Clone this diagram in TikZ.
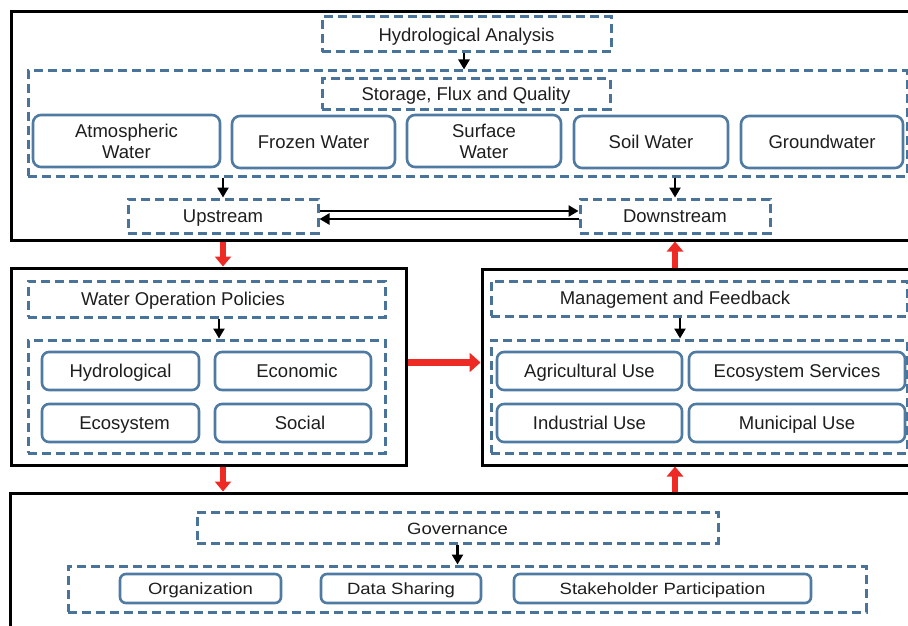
\documentclass[tikz,border=0pt]{standalone}
\usepackage{fontspec}
\setmainfont{Liberation Sans}
\usepackage{graphicx}
\usetikzlibrary{arrows.meta}
\definecolor{dblue}{HTML}{4A7399}
\definecolor{rblue}{HTML}{4F7BA3}
\definecolor{txt}{HTML}{1E1E1E}
\definecolor{ared}{HTML}{EE2A24}
\begin{document}
\begin{tikzpicture}[x=1pt,y=-1pt,
 every node/.style={font=\fontsize{18.5}{21}\selectfont, text=txt, inner sep=0pt, align=center},
 sl/.style={text height=16pt, text depth=4pt},
 outer/.style={draw=black, line width=3pt, rectangle},
 dbox/.style={draw=dblue, line width=3pt, dash pattern=on 9pt off 5pt},
 rbox/.style={draw=rblue, line width=2.6pt, rounded corners=8pt},
 blk/.style={draw=black, line width=2.5pt, -{Triangle[width=11pt,length=10pt]}},
 redv/.style={draw=ared, line width=6.5pt, -{Triangle[width=16pt,length=10pt]}},
 redh/.style={draw=ared, line width=7pt, -{Triangle[width=19pt,length=11pt]}},
 sz/.style 2 args={minimum width=#1, minimum height=#2},
]
\useasboundingbox (0,0) rectangle (908,626);
\clip (0,0) rectangle (908,626);
\fill[white] (0,0) rectangle (908,626);

% ---------- top panel ----------
\node[outer, sz={919pt}{228pt}] (top) at (470.5,126) {};
\node[dbox, text height=18pt, text depth=4pt, sz={289pt}{35pt}] (ha) at (466.5,34.5) {Hydrological Analysis};
\node[dbox, sz={879pt}{105pt}] (sfqbox) at (467.5,123.5) {};
\node[dbox, sl, sz={288pt}{30pt}] (sfq) at (466,94) {Storage, Flux and Quality};
\node[rbox, sz={187pt}{52pt}] (atm) at (126.5,141) {Atmospheric\\Water};
\node[rbox, sl, sz={163pt}{52pt}] (frz) at (313.5,142) {Frozen Water};
\node[rbox, sz={154pt}{52pt}] (srf) at (484,141) {Surface\\Water};
\node[rbox, sl, sz={154pt}{52pt}] (soil) at (651,142) {Soil Water};
\node[rbox, sl, sz={162pt}{52pt}] (gw) at (822,142) {Groundwater};
\node[dbox, sl, sz={190pt}{34pt}] (up) at (223,216) {Upstream};
\node[dbox, sl, sz={190pt}{34pt}] (down) at (675,216) {Downstream};

\draw[blk] ([xshift=-2.5pt]ha.south) -- ([xshift=-2.5pt]ha.south |- sfqbox.north);
\draw[blk] (sfqbox.south -| up.north) -- (up.north);
\draw[blk] (sfqbox.south -| down.north) -- (down.north);
\draw[blk] ([yshift=5pt]up.east) -- ([yshift=5pt]down.west);
\draw[blk] ([yshift=-3pt]down.west) -- ([yshift=-3pt]up.east);

% ---------- left middle panel ----------
\node[outer, sz={395pt}{197pt}] (left) at (208.5,366.5) {};
\node[dbox, sl, sz={357pt}{36pt}] (wop) at (206.5,299) {Water Operation Policies\hspace*{47pt}};
\node[dbox, sz={357pt}{113pt}] (wopin) at (206.5,396.5) {};
\node[rbox, sl, rounded corners=7pt, sz={157pt}{38pt}] (hyd) at (120.5,371) {Hydrological};
\node[rbox, sl, rounded corners=7pt, sz={156pt}{38pt}] (eco) at (293,371) {\hspace*{8pt}Economic};
\node[rbox, sl, rounded corners=7pt, sz={157pt}{38pt}] (esys) at (120.5,423) {\hspace*{8pt}Ecosystem};
\node[rbox, sl, rounded corners=7pt, sz={156pt}{38pt}] (soc) at (293,423) {\hspace*{14pt}Social};
\draw[blk] ([xshift=12.5pt]wop.south) -- ([xshift=12.5pt]wopin.north);

% ---------- right middle panel ----------
\node[outer, sz={448pt}{196pt}] (right) at (706,367) {};
\node[dbox, sl, sz={416pt}{35pt}] (mf) at (699,298.5) {Management and Feedback\hspace*{48pt}};
\node[dbox, sz={416pt}{113pt}] (mfin) at (699,396.5) {};
\node[rbox, sl, rounded corners=7pt, sz={185pt}{38pt}] (agr) at (589.5,371) {Agricultural Use};
\node[rbox, sl, rounded corners=7pt, sz={216pt}{38pt}] (ess) at (797,371) {Ecosystem Services};
\node[rbox, sl, rounded corners=7pt, sz={185pt}{38pt}] (ind) at (589.5,423) {Industrial Use};
\node[rbox, sl, rounded corners=7pt, sz={216pt}{38pt}] (mun) at (797,423) {Municipal Use};
\draw[blk] ([xshift=-19pt]mf.south) -- ([xshift=-19pt]mfin.north);

% ---------- bottom panel ----------
\node[outer, sz={920pt}{147pt}] (bot) at (470,566.5) {};
\node[dbox, text height=16pt, text depth=2pt, sz={521pt}{31pt}] (gov) at (457.5,527.5) {\scalebox{1}[0.88]{Governance}};
\node[dbox, sz={798pt}{46pt}] (govin) at (467,589) {};
\node[rbox, sl, rounded corners=6pt, sz={161pt}{29pt}] (org) at (200.5,588.5) {\scalebox{1}[0.88]{Organization}};
\node[rbox, sl, rounded corners=6pt, sz={160pt}{29pt}] (ds) at (401,588.5) {\scalebox{1}[0.88]{Data Sharing}};
\node[rbox, sl, rounded corners=6pt, sz={297pt}{29pt}] (sp) at (662.5,588.5) {\scalebox{1}[0.88]{Stakeholder Participation}};
\draw[blk] (gov.south) -- (gov.south |- govin.north);

% ---------- red flow arrows ----------
\draw[redv] (top.south -| up.south) -- (left.north -| up.south);
\draw[redv] (left.south -| up.south) -- (bot.north -| up.south);
\draw[redh] ([yshift=4pt]left.east) -- ([yshift=4pt]left.east -| right.west);
\draw[redv] (right.north -| down.south) -- (top.south -| down.south);
\draw[redv] (bot.north -| down.south) -- (right.south -| down.south);
\end{tikzpicture}
\end{document}
